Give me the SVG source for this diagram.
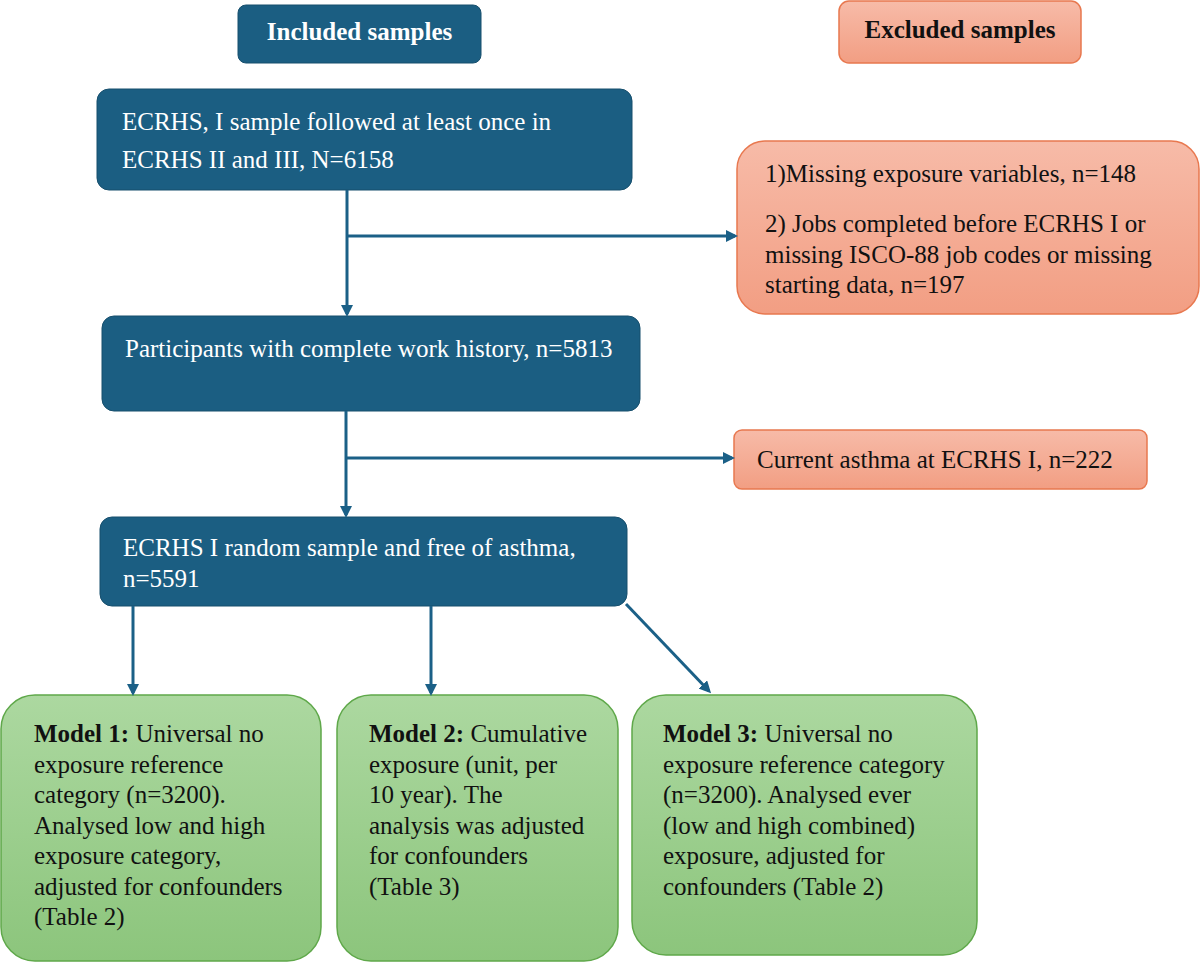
<svg xmlns="http://www.w3.org/2000/svg" width="1200" height="963" viewBox="0 0 1200 963">
<defs>
<linearGradient id="gO" x1="0" y1="0" x2="0" y2="1"><stop offset="0" stop-color="#f7bba8"/><stop offset="1" stop-color="#f29e83"/></linearGradient>
<linearGradient id="gG" x1="0" y1="0" x2="0" y2="1"><stop offset="0" stop-color="#acd8a0"/><stop offset="1" stop-color="#8cc57c"/></linearGradient>
<marker id="ar" markerWidth="12" markerHeight="12" refX="9" refY="6" orient="auto" markerUnits="userSpaceOnUse" viewBox="0 0 12 12"><path d="M0,0 L12,6 L0,12 z" fill="#1b6087"/></marker>
</defs>
<style>
.b{fill:#1b5e82;stroke:#174f6d;stroke-width:1}
.o{fill:url(#gO);stroke:#e8784f;stroke-width:1.5}
.g{fill:url(#gG);stroke:#5fa84a;stroke-width:1.5}
text{font-family:"Liberation Serif","Times New Roman",serif;font-size:25px}
.w{fill:#ffffff}
.k{fill:#111111}
.c{fill:none;stroke:#1b6087;stroke-width:3}
</style>
<rect width="1200" height="963" fill="#ffffff"/>
<g id="included"><rect class="b" x="238" y="5" width="243" height="58" rx="8"/><text class="w" x="359.5" y="40" text-anchor="middle" font-weight="bold">Included samples</text></g>
<g id="excluded"><rect class="o" x="839" y="1" width="242" height="62" rx="10"/><text class="k" x="960" y="38" text-anchor="middle" font-weight="bold">Excluded samples</text></g>
<g id="n1"><rect class="b" x="97" y="89" width="535" height="101" rx="12"/><text class="w" x="122" y="130">ECRHS, I sample followed at least once in</text><text class="w" x="122" y="168">ECRHS II and III, N=6158</text></g>
<g id="x1"><rect class="o" x="737" y="141" width="462" height="173" rx="28"/><text class="k" x="765" y="182">1)Missing exposure variables, n=148</text><text class="k" x="765" y="232">2) Jobs completed before ECRHS I or</text><text class="k" x="765" y="263">missing ISCO-88 job codes or missing</text><text class="k" x="765" y="293">starting data, n=197</text></g>
<g id="n2"><rect class="b" x="102" y="316" width="538" height="95" rx="12"/><text class="w" x="125" y="357">Participants with complete work history, n=5813</text></g>
<g id="x2"><rect class="o" x="734" y="430" width="413" height="59" rx="8"/><text class="k" x="757" y="468">Current asthma at ECRHS I, n=222</text></g>
<g id="n3"><rect class="b" x="100" y="517" width="527" height="89" rx="12"/><text class="w" x="123" y="556">ECRHS I random sample and free of asthma,</text><text class="w" x="123" y="587">n=5591</text></g>
<g id="m1"><rect class="g" x="1" y="695" width="320" height="266" rx="34"/><text class="k" x="34" y="742"><tspan font-weight="bold">Model 1:</tspan> Universal no</text><text class="k" x="34" y="773">exposure reference</text><text class="k" x="34" y="803">category (n=3200).</text><text class="k" x="34" y="834">Analysed low and high</text><text class="k" x="34" y="864">exposure category,</text><text class="k" x="34" y="895">adjusted for confounders</text><text class="k" x="34" y="925">(Table 2)</text></g>
<g id="m2"><rect class="g" x="337" y="695" width="281" height="266" rx="34"/><text class="k" x="369" y="742"><tspan font-weight="bold">Model 2:</tspan> Cumulative</text><text class="k" x="369" y="773">exposure (unit, per</text><text class="k" x="369" y="803">10 year). The</text><text class="k" x="369" y="834">analysis was adjusted</text><text class="k" x="369" y="864">for confounders</text><text class="k" x="369" y="895">(Table 3)</text></g>
<g id="m3"><rect class="g" x="632" y="695" width="345" height="260" rx="34"/><text class="k" x="663" y="742"><tspan font-weight="bold">Model 3:</tspan> Universal no</text><text class="k" x="663" y="773">exposure reference category</text><text class="k" x="663" y="803">(n=3200). Analysed ever</text><text class="k" x="663" y="834">(low and high combined)</text><text class="k" x="663" y="864">exposure, adjusted for</text><text class="k" x="663" y="895">confounders (Table 2)</text></g>
<g id="connectors">
<line class="c" x1="347" y1="190" x2="347" y2="314" marker-end="url(#ar)"/>
<line class="c" x1="347" y1="236" x2="735" y2="236" marker-end="url(#ar)"/>
<line class="c" x1="346" y1="411" x2="346" y2="515" marker-end="url(#ar)"/>
<line class="c" x1="346" y1="458" x2="732" y2="458" marker-end="url(#ar)"/>
<line class="c" x1="133" y1="606" x2="133" y2="693" marker-end="url(#ar)"/>
<line class="c" x1="431" y1="606" x2="431" y2="693" marker-end="url(#ar)"/>
<line class="c" x1="626" y1="604" x2="709" y2="691" marker-end="url(#ar)"/>
</g>
</svg>
